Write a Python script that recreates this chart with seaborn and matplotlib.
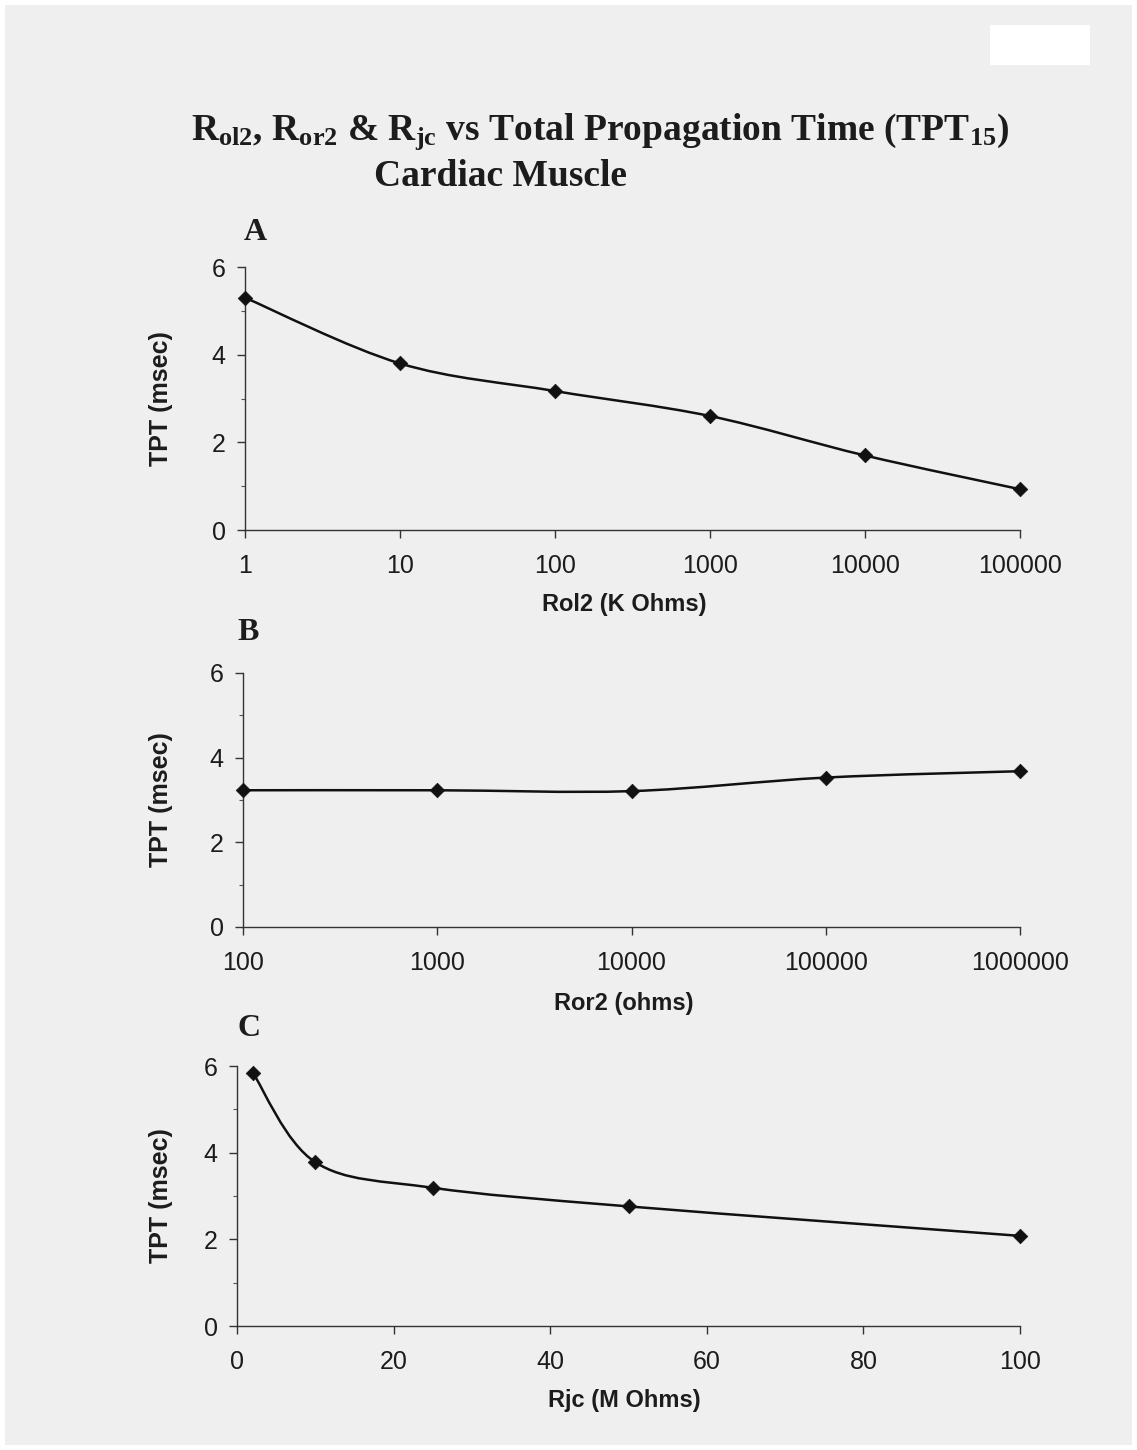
import numpy as np
import pandas as pd
import matplotlib
matplotlib.use("Agg")
import matplotlib.pyplot as plt
from matplotlib.path import Path
from matplotlib.patches import PathPatch, Rectangle
from matplotlib.ticker import FixedLocator, NullLocator, FixedFormatter
import seaborn as sns

# ---------------- data ----------------
rol2_kohms = [1, 10, 100, 1000, 10000, 100000]
tpt_a = [5.30, 3.80, 3.17, 2.60, 1.70, 0.93]

ror2_ohms = [100, 1000, 10000, 100000, 1000000]
tpt_b = [3.23, 3.23, 3.21, 3.53, 3.68]

rjc_mohms = [2, 10, 25, 50, 100]
tpt_c = [5.85, 3.78, 3.19, 2.76, 2.08]

xticks_a = [1, 10, 100, 1000, 10000, 100000]
xticks_b = [100, 1000, 10000, 100000, 1000000]
xticks_c = [0, 20, 40, 60, 80, 100]
yticks = [0, 2, 4, 6]
yminor = [1, 3, 5]

title_line1 = r"R$_{\mathbf{ol2}}$, R$_{\mathbf{or2}}$ & R$_{\mathbf{jc}}$ vs Total Propagation Time (TPT$_{\mathbf{15}}$)"
title_line2 = "Cardiac Muscle"
xlabels = ["Rol2 (K Ohms)", "Ror2 (ohms)", "Rjc (M Ohms)"]
ylabel = "TPT (msec)"
letters = ["A", "B", "C"]

# ---------------- style ----------------
sns.set_theme(style="white")
plt.rcParams["font.family"] = ["Liberation Sans", "DejaVu Sans"]
plt.rcParams["mathtext.fontset"] = "custom"
plt.rcParams["mathtext.rm"] = "Liberation Serif"
plt.rcParams["mathtext.bf"] = "Liberation Serif:bold"
plt.rcParams["mathtext.it"] = "Liberation Serif:italic"

BG = "#efefef"
INK = "#1c1c1c"

W, H = 1137, 1450
fig = plt.figure(figsize=(W / 100, H / 100), dpi=100, facecolor="white")
fig.patches.append(Rectangle((5 / W, 5 / H), 1 - 10 / W, 1 - 10 / H,
                             transform=fig.transFigure, facecolor=BG,
                             edgecolor="none", zorder=-10))
fig.patches.append(Rectangle((990 / W, 1 - 65 / H), 100 / W, 40 / H,
                             transform=fig.transFigure, facecolor="white",
                             edgecolor="none", zorder=-9))


def px_axes(left, right, top, bottom):
    return fig.add_axes([left / W, 1 - bottom / H, (right - left) / W, (bottom - top) / H])


def smooth_path(xs, ys, logx):
    u = np.log10(np.asarray(xs, float)) if logx else np.asarray(xs, float)
    v = np.asarray(ys, float)
    n = len(u)
    verts = [(u[0], v[0])]
    codes = [Path.MOVETO]
    for i in range(n - 1):
        p0 = np.array([u[max(i - 1, 0)], v[max(i - 1, 0)]])
        p1 = np.array([u[i], v[i]])
        p2 = np.array([u[i + 1], v[i + 1]])
        p3 = np.array([u[min(i + 2, n - 1)], v[min(i + 2, n - 1)]])
        c1 = p1 + (p2 - p0) / 6.0
        c2 = p2 - (p3 - p1) / 6.0
        verts += [tuple(c1), tuple(c2), tuple(p2)]
        codes += [Path.CURVE4] * 3
    verts = np.array(verts)
    if logx:
        verts[:, 0] = 10 ** verts[:, 0]
    return Path(verts, codes)


panels = [
    dict(x=rol2_kohms, y=tpt_a, log=True, ticks=xticks_a, box=(245, 1020, 267, 530),
         xlim=(1, 100000), letter_xy=(255, 232), xlab_top=593),
    dict(x=ror2_ohms, y=tpt_b, log=True, ticks=xticks_b, box=(243, 1020, 673, 927),
         xlim=(100, 1000000), letter_xy=(248, 632), xlab_top=992),
    dict(x=rjc_mohms, y=tpt_c, log=False, ticks=xticks_c, box=(237, 1020, 1066, 1326),
         xlim=(0, 100), letter_xy=(249, 1028), xlab_top=1389),
]

for k, p in enumerate(panels):
    left, right, top, bottom = p["box"]
    ax = px_axes(left, right, top, bottom)
    ax.set_facecolor("none")
    if p["log"]:
        ax.set_xscale("log")
    df = pd.DataFrame({"x": p["x"], "y": p["y"]})
    ax.add_patch(PathPatch(smooth_path(p["x"], p["y"], p["log"]), transform=ax.transData,
                           facecolor="none", edgecolor="#111111", lw=1.8, zorder=2,
                           clip_on=False))
    sns.scatterplot(data=df, x="x", y="y", marker="D", s=55, color="#111111",
                    edgecolor="#111111", linewidth=0.5, ax=ax, zorder=3, clip_on=False)
    ax.set_xlim(*p["xlim"])
    ax.set_ylim(0, 6)
    sns.despine(ax=ax)
    for sp in ("left", "bottom"):
        ax.spines[sp].set_color("#333333")
        ax.spines[sp].set_linewidth(1.0)
    ax.xaxis.set_major_locator(FixedLocator(p["ticks"]))
    ax.xaxis.set_major_formatter(FixedFormatter([str(t) for t in p["ticks"]]))
    ax.xaxis.set_minor_locator(NullLocator())
    ax.yaxis.set_major_locator(FixedLocator(yticks))
    ax.yaxis.set_minor_locator(FixedLocator(yminor))
    ax.tick_params(axis="both", which="major", direction="out", length=6, width=1,
                   color="#333333", labelsize=18, labelcolor=INK)
    ax.tick_params(axis="x", which="major", pad=11, bottom=True)
    ax.tick_params(axis="y", which="major", pad=8, left=True)
    ax.tick_params(axis="y", which="minor", direction="out", length=3, width=0.8,
                   color="#555555", left=True)
    ax.set_xlabel(xlabels[k], fontsize=17, fontweight="bold", color=INK)
    ax.set_ylabel(ylabel, fontsize=18, fontweight="bold", color=INK)
    h = bottom - top
    w = right - left
    ax.xaxis.set_label_coords((624 - left) / w, (bottom - p["xlab_top"]) / h)
    ax.yaxis.set_label_coords((173 - left) / w, 0.5)
    lx, ly = p["letter_xy"]
    fig.text(lx / W, 1 - ly / H, letters[k], fontsize=23, fontweight="bold",
             family="Liberation Serif", color=INK, ha="center", va="center")

fig.text(600 / W, 1 - 132 / H, title_line1, fontsize=27, fontweight="bold",
         family="Liberation Serif", color=INK, ha="center", va="center")
fig.text(500 / W, 1 - 176 / H, title_line2, fontsize=27, fontweight="bold",
         family="Liberation Serif", color=INK, ha="center", va="center")

fig.savefig("out.png", dpi=100, facecolor="white")
